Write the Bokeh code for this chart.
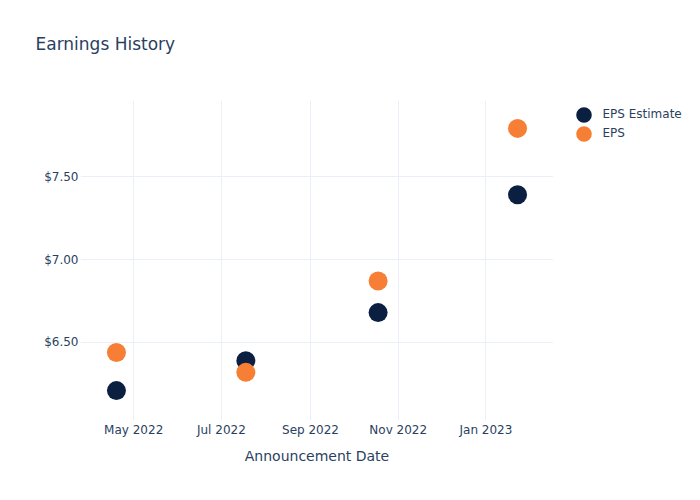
from datetime import datetime
from bokeh.plotting import figure
from bokeh.layouts import row
from bokeh.models import (ColumnDataSource, FixedTicker, DatetimeTickFormatter,
                          NumeralTickFormatter, Range1d, Legend, LegendItem, Title)
from bokeh.embed import file_html
from bokeh.resources import INLINE

dates = ["2022-04-19", "2022-07-18", "2022-10-18", "2023-01-23"]
eps_estimate = [6.21, 6.39, 6.68, 7.39]
eps = [6.44, 6.32, 6.87, 7.79]
series_names = ["EPS Estimate", "EPS"]
series_colors = ["#0b1f41", "#f67f35"]
x_ticks = ["2022-05-01", "2022-07-01", "2022-09-01", "2022-11-01", "2023-01-01"]
y_ticks = [6.5, 7.0, 7.5]

def ms(s):
    return datetime.strptime(s, "%Y-%m-%d").timestamp() * 1000

xd = [datetime.strptime(d, "%Y-%m-%d") for d in dates]
src = ColumnDataSource(dict(x=xd, est=eps_estimate, eps=eps))

FONT = "DejaVu Sans"
TXT = "#2a3f5f"
GRID = "#ebf0f8"

p = figure(frame_width=473, frame_height=320, x_axis_type="datetime", output_backend="svg",
           toolbar_location=None,
           x_range=Range1d(ms("2022-03-25"), ms("2023-02-17")),
           y_range=Range1d(6.03, 7.958),
           min_border_left=80, min_border_right=0, min_border_top=100,
           min_border_bottom=80)
p.outline_line_color = None
p.background_fill_color = "white"

# real title (outer), spacer title added nearest to the frame
p.title.text = "Earnings History"
p.title.text_font = FONT
p.title.text_font_size = "17px"
p.title.text_font_style = "normal"
p.title.text_color = TXT
p.title.align = "left"
p.title.offset = -45
p.title.standoff = 0
p.add_layout(Title(text=" ", text_font=FONT, text_font_size="17px",
                   standoff=25), "above")

p.scatter("x", "est", source=src, size=19, color=series_colors[0], line_color=None)
p.scatter("x", "eps", source=src, size=19, color=series_colors[1], line_color=None)

p.xaxis.ticker = FixedTicker(ticks=[ms(t) for t in x_ticks])
p.xaxis.formatter = DatetimeTickFormatter(months="%b %Y", days="%b %Y", years="%b %Y")
p.yaxis.ticker = FixedTicker(ticks=y_ticks)
p.yaxis.formatter = NumeralTickFormatter(format="$0.00")

for ax in (p.xaxis[0], p.yaxis[0]):
    ax.axis_line_color = None
    ax.major_tick_line_color = None
    ax.minor_tick_line_color = None
    ax.major_tick_out = 0
    ax.major_tick_in = 0
    ax.minor_tick_out = 0
    ax.major_label_text_font = FONT
    ax.major_label_text_font_size = "12px"
    ax.major_label_text_color = TXT
p.xaxis.major_label_standoff = 2
p.yaxis.major_label_standoff = 2
p.xaxis.axis_label = "Announcement Date"
p.xaxis.axis_label_text_font = FONT
p.xaxis.axis_label_text_font_size = "14px"
p.xaxis.axis_label_text_font_style = "normal"
p.xaxis.axis_label_text_color = TXT
p.xaxis.axis_label_standoff = 8

p.xgrid.grid_line_color = GRID
p.ygrid.grid_line_color = GRID

# legend panel (legend key proxies lie outside the panel's visible range)
lg = figure(width=147, height=500, output_backend="svg", toolbar_location=None,
            x_range=Range1d(0, 1), y_range=Range1d(0, 1),
            x_axis_location=None, y_axis_location=None,
            min_border=0, min_border_left=0, min_border_right=0,
            min_border_top=0, min_border_bottom=0)
lg.outline_line_color = None
lg.grid.visible = False
items = []
for name, col in zip(series_names, series_colors):
    r = lg.scatter(x=[-5], y=[-5], size=19, fill_color=col, line_color=col,
                   line_width=8)
    items.append(LegendItem(label=name, renderers=[r]))
legend = Legend(items=items, location=(20.5, 277.5), border_line_color=None,
                background_fill_alpha=0, label_text_font=FONT,
                label_text_font_size="12px", label_text_color=TXT,
                spacing=0, label_height=19, glyph_height=19, glyph_width=19,
                padding=0, margin=0, label_standoff=10)
lg.add_layout(legend)

layout = row(p, lg, spacing=0)
open("out.html", "w").write(file_html(layout, INLINE))
